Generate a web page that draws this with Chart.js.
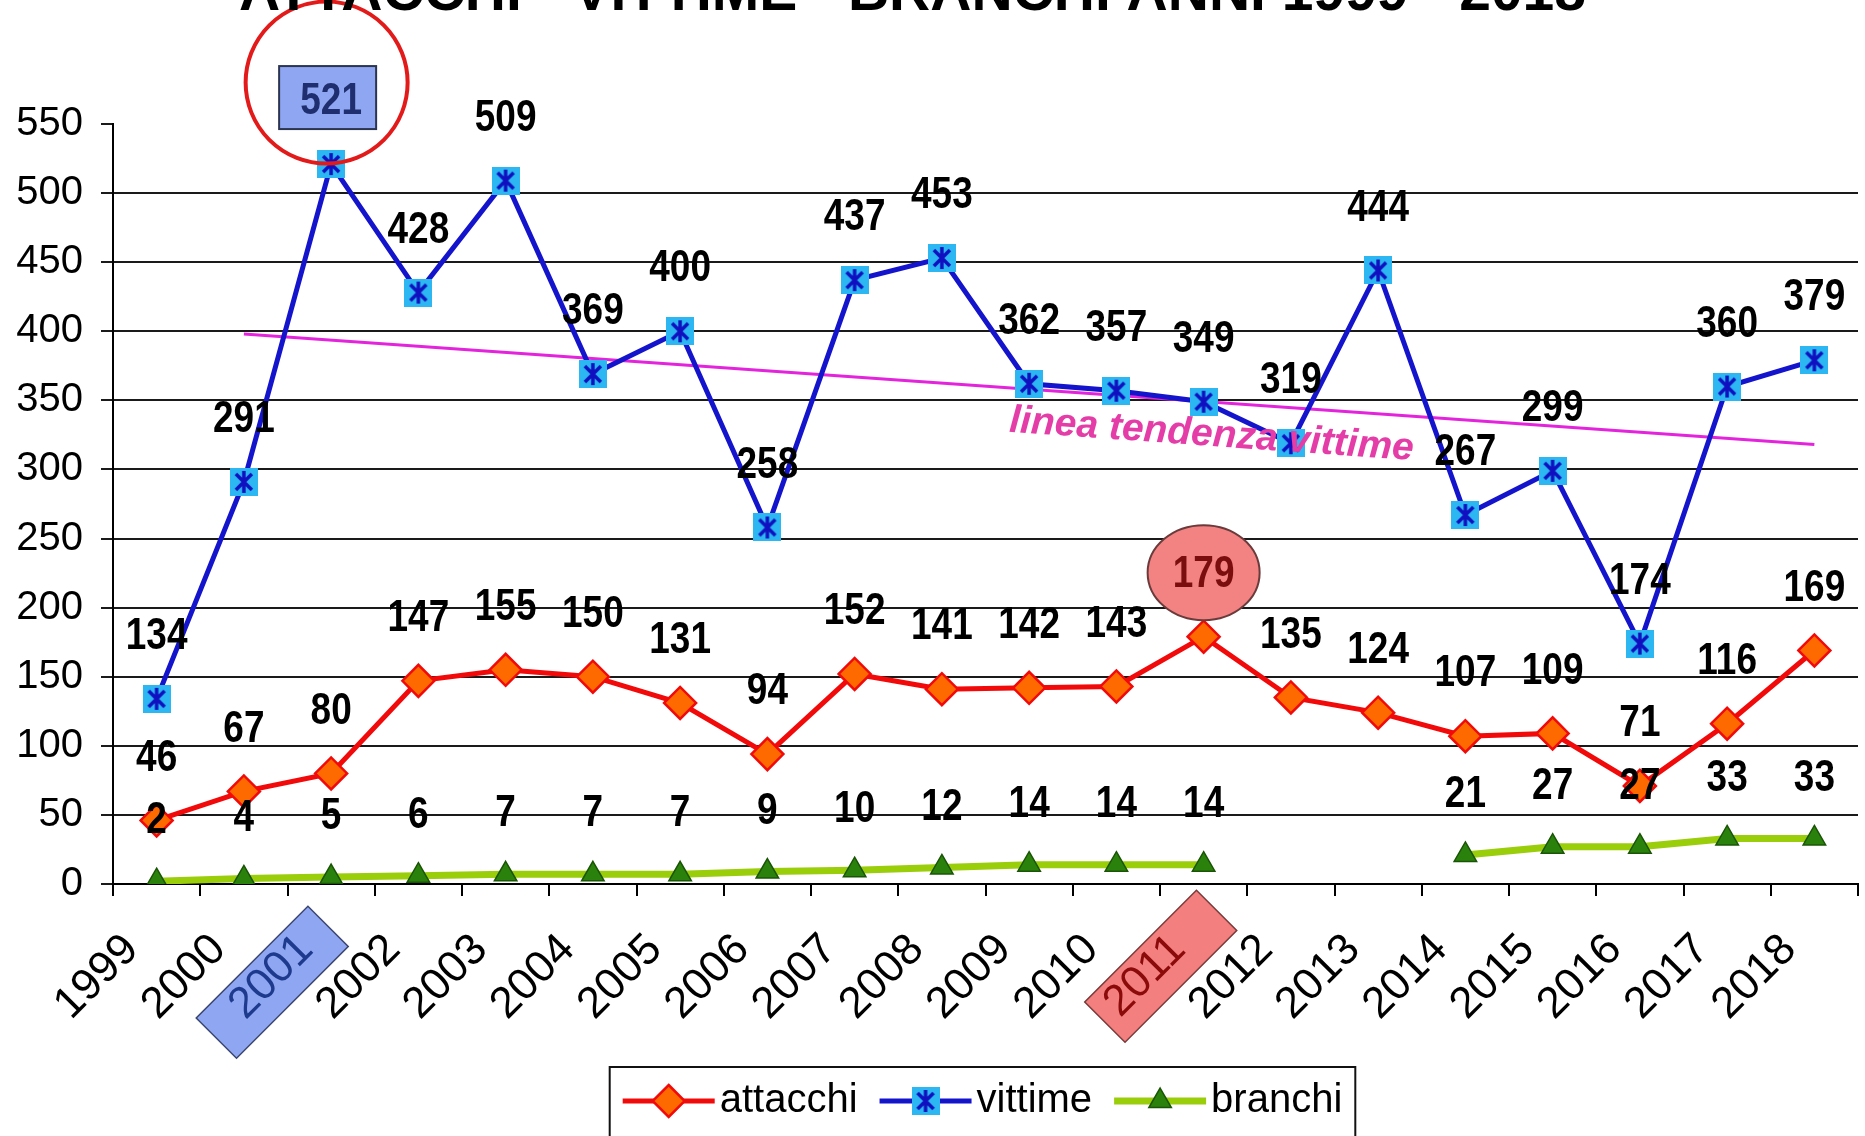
<!DOCTYPE html>
<html>
<head>
<meta charset="utf-8">
<title>Attacchi - vittime - branchi 1999-2018</title>
<script src="https://cdn.jsdelivr.net/npm/chart.js@4.4.1/dist/chart.umd.min.js"></script>
<style>
  html, body { margin: 0; padding: 0; background: #fff; overflow: hidden; }
  canvas { display: block; }
</style>
</head>
<body>
<canvas id="chart" width="1865" height="1136"></canvas>
<script>
const FONT = "'Liberation Sans', Arial, sans-serif";

const years = ['1999', '2000', '2001', '2002', '2003', '2004', '2005', '2006', '2007', '2008',
               '2009', '2010', '2011', '2012', '2013', '2014', '2015', '2016', '2017', '2018'];
const attacchi = [46, 67, 80, 147, 155, 150, 131, 94, 152, 141, 142, 143, 179, 135, 124, 107, 109, 71, 116, 169];
const vittime = [134, 291, 521, 428, 509, 369, 400, 258, 437, 453, 362, 357, 349, 319, 444, 267, 299, 174, 360, 379];
const branchi = [2, 4, 5, 6, 7, 7, 7, 9, 10, 12, 14, 14, 14, null, null, 21, 27, 27, 33, 33];
const trendVittime = [null, 398, null, null, null, null, null, null, null, null,
                      null, null, null, null, null, null, null, null, null, 318];

const yMin = 0;
const yMax = 550;
const yStep = 50;

const titleText = 'ATTACCHI - VITTIME - BRANCHI ANNI 1999 - 2018';
const trendNote = 'linea tendenza vittime';
const trendNoteYear = '2011';
const peakVittimeYear = '2001';
const peakAttacchiYear = '2011';

// highlighted year labels on the x axis (shift = slide along the text)
const yearBoxes = {
    '2001': { fill: '#8FA6F2', stroke: '#3B4670', text: '#1E3A8C', shift: 0 },
    '2011': { fill: '#F47F7F', stroke: '#7A3A3A', text: '#8B0A0A', shift: 21 }
};

// vittime marker: cyan square with a blue asterisk
const starSquare = (() => {
    const size = 28;
    const c = document.createElement('canvas');
    c.width = size;
    c.height = size;
    const g = c.getContext('2d');
    g.fillStyle = '#2DB7F2';
    g.fillRect(0, 0, size, size);
    g.strokeStyle = '#1010C0';
    g.lineWidth = 3.5;
    g.beginPath();
    g.moveTo(6, 6); g.lineTo(size - 6, size - 6);
    g.moveTo(size - 6, 6); g.lineTo(6, size - 6);
    g.moveTo(size / 2, 3); g.lineTo(size / 2, size - 3);
    g.stroke();
    return c;
})();

const drawMarker = (ctx, ds, x, y) => {
    const style = ds.pointStyle;
    if (style instanceof HTMLCanvasElement) {
        ctx.drawImage(style, x - style.width / 2, y - style.height / 2);
        return;
    }
    const r = ds.pointRadius;
    ctx.beginPath();
    if (style === 'rectRot') {
        ctx.moveTo(x, y - r); ctx.lineTo(x + r, y); ctx.lineTo(x, y + r); ctx.lineTo(x - r, y);
    } else if (style === 'triangle') {
        const h = r * 1.5;
        ctx.moveTo(x, y - r);
        ctx.lineTo(x + r * Math.cos(Math.PI / 6), y - r + h);
        ctx.lineTo(x - r * Math.cos(Math.PI / 6), y - r + h);
    }
    ctx.closePath();
    ctx.fillStyle = ds.pointBackgroundColor;
    ctx.fill();
    ctx.lineWidth = ds.pointBorderWidth;
    ctx.strokeStyle = ds.pointBorderColor;
    ctx.stroke();
};

// bold condensed number, like the narrow font of the original
const drawNumber = (ctx, text, x, y, color) => {
    ctx.save();
    ctx.translate(x, y);
    ctx.scale(0.84, 1);
    ctx.font = `bold 44px ${FONT}`;
    ctx.fillStyle = color;
    ctx.textAlign = 'center';
    ctx.textBaseline = 'middle';
    ctx.fillText(text, 0, 0);
    ctx.restore();
};

// boxes behind the highlighted year labels
const yearBoxPlugin = {
    id: 'yearBoxes',
    beforeDraw(chart) {
        const ctx = chart.ctx;
        const items = chart.scales.x.getLabelItems();
        items.forEach(it => {
            const box = yearBoxes[it.label];
            if (!box) return;
            ctx.save();
            ctx.translate(it.options.translation[0], it.options.translation[1]);
            ctx.rotate(it.options.rotation);
            ctx.font = it.font.string;
            const w = ctx.measureText(it.label).width;
            const cx = -w / 2 - 3 + box.shift;
            const cy = it.textOffset + 4;
            ctx.beginPath();
            ctx.rect(cx - 79, cy - 28.5, 158, 57);
            ctx.fillStyle = box.fill;
            ctx.fill();
            ctx.lineWidth = 1.5;
            ctx.strokeStyle = box.stroke;
            ctx.stroke();
            ctx.restore();
        });
    }
};

// value labels above the points
const valueLabels = {
    id: 'valueLabels',
    afterDatasetsDraw(chart) {
        const ctx = chart.ctx;
        chart.data.datasets.forEach((ds, di) => {
            if (!ds.lift) return;
            chart.getDatasetMeta(di).data.forEach((pt, i) => {
                const v = ds.data[i];
                if (v === null || v === undefined) return;
                const x = pt.x;
                const y = pt.y - ds.lift;
                let color = '#000';
                const peakV = ds.label === 'vittime' && years[i] === peakVittimeYear;
                const peakA = ds.label === 'attacchi' && years[i] === peakAttacchiYear;
                if (peakV) {
                    ctx.save();
                    ctx.fillStyle = '#8FA6F2';
                    ctx.strokeStyle = '#2B3550';
                    ctx.lineWidth = 2;
                    ctx.fillRect(x - 52, y - 36, 97, 63);
                    ctx.strokeRect(x - 52, y - 36, 97, 63);
                    ctx.restore();
                    color = '#1F2E6E';
                }
                if (peakA) {
                    ctx.save();
                    ctx.beginPath();
                    ctx.ellipse(x, y - 2, 56, 47.5, 0, 0, Math.PI * 2);
                    ctx.fillStyle = '#F38282';
                    ctx.fill();
                    ctx.lineWidth = 2;
                    ctx.strokeStyle = '#6B3B3B';
                    ctx.stroke();
                    ctx.restore();
                    color = '#7A0D0D';
                }
                drawNumber(ctx, String(v), x, y, color);
                if (peakV) {
                    ctx.save();
                    ctx.beginPath();
                    ctx.arc(x - 4.5, y - 19.5, 81, 0, Math.PI * 2);
                    ctx.lineWidth = 4;
                    ctx.strokeStyle = '#E31A1A';
                    ctx.stroke();
                    ctx.restore();
                }
            });
        });

        // note under the trend line
        const ti = chart.data.datasets.findIndex(d => d.label === 'tendenza');
        const pts = chart.getDatasetMeta(ti).data.filter((p, i) => trendVittime[i] !== null);
        const a = pts[0];
        const b = pts[pts.length - 1];
        const ang = Math.atan2(b.y - a.y, b.x - a.x);
        const nx = chart.scales.x.getPixelForValue(years.indexOf(trendNoteYear)) + 8;
        const ny = a.y + (nx - a.x) * (b.y - a.y) / (b.x - a.x) + 33;
        ctx.save();
        ctx.translate(nx, ny);
        ctx.rotate(ang);
        ctx.font = `italic bold 39px ${FONT}`;
        ctx.fillStyle = '#E43DA8';
        ctx.textAlign = 'center';
        ctx.textBaseline = 'middle';
        ctx.fillText(trendNote, 0, 0);
        ctx.restore();
    }
};

// cut off title and boxed legend at the bottom
const frame = {
    id: 'frame',
    afterDraw(chart) {
        const ctx = chart.ctx;
        const area = chart.chartArea;
        ctx.save();
        ctx.font = `bold 57px ${FONT}`;
        ctx.fillStyle = '#000';
        ctx.textAlign = 'center';
        ctx.textBaseline = 'alphabetic';
        ctx.fillText(titleText, chart.width / 2 - 20, 10);

        const shown = chart.data.datasets.filter(d => d.inLegend);
        ctx.font = `40px ${FONT}`;
        const sample = 92, gapText = 5, gapItem = 22, pad = 13;
        let total = pad * 2;
        shown.forEach((d, k) => {
            total += sample + gapText + ctx.measureText(d.label).width + (k ? gapItem : 0);
        });
        const left = (area.left + area.right) / 2 - 3 - total / 2;
        const top = area.bottom + 183;
        const midY = top + 34;
        ctx.lineWidth = 2;
        ctx.strokeStyle = '#111';
        ctx.strokeRect(left, top, total, 120);
        let x = left + pad;
        shown.forEach(d => {
            ctx.beginPath();
            ctx.moveTo(x, midY);
            ctx.lineTo(x + sample, midY);
            ctx.lineWidth = d.borderWidth;
            ctx.strokeStyle = d.borderColor;
            ctx.stroke();
            drawMarker(ctx, d, x + sample / 2, midY);
            x += sample + gapText;
            ctx.fillStyle = '#000';
            ctx.textAlign = 'left';
            ctx.textBaseline = 'middle';
            ctx.fillText(d.label, x, midY);
            x += ctx.measureText(d.label).width + gapItem;
        });
        ctx.restore();
    }
};

new Chart(document.getElementById('chart'), {
    type: 'line',
    data: {
        labels: years,
        datasets: [
            {
                label: 'attacchi',
                data: attacchi,
                borderColor: '#F20A0A',
                borderWidth: 5,
                pointStyle: 'rectRot',
                pointRadius: 16,
                pointBackgroundColor: '#FF6A00',
                pointBorderColor: '#F20A0A',
                pointBorderWidth: 2.5,
                lift: 62,
                inLegend: true
            },
            {
                label: 'vittime',
                data: vittime,
                borderColor: '#1414CC',
                borderWidth: 5,
                pointStyle: starSquare,
                pointRadius: 14,
                lift: 62,
                inLegend: true
            },
            {
                label: 'branchi',
                data: branchi,
                borderColor: '#9ACD0A',
                borderWidth: 7,
                pointStyle: 'triangle',
                pointRadius: 13,
                pointBackgroundColor: '#2A820C',
                pointBorderColor: '#1A5506',
                pointBorderWidth: 1.5,
                spanGaps: false,
                lift: 60,
                inLegend: true
            },
            {
                label: 'tendenza',
                data: trendVittime,
                borderColor: '#E424DC',
                borderWidth: 3,
                pointRadius: 0,
                spanGaps: true
            }
        ]
    },
    options: {
        responsive: false,
        animation: false,
        events: [],
        layout: { autoPadding: false, padding: { top: 124, right: 7, left: 0, bottom: 0 } },
        plugins: {
            legend: { display: false },
            tooltip: { enabled: false },
            title: { display: false }
        },
        scales: {
            x: {
                offset: true,
                afterFit: (scale) => {
                    scale.height = 252;
                    scale.paddingLeft = 0;
                    scale.paddingRight = 0;
                },
                grid: {
                    offset: true,
                    drawOnChartArea: false,
                    drawTicks: true,
                    tickLength: 12,
                    color: '#000',
                    lineWidth: 2
                },
                border: { color: '#000', width: 2 },
                ticks: {
                    autoSkip: false,
                    minRotation: 45,
                    maxRotation: 45,
                    labelOffset: -25,
                    padding: 28,
                    font: { family: FONT, size: 44 },
                    color: (c) => (yearBoxes[years[c.index]] ? yearBoxes[years[c.index]].text : '#000')
                }
            },
            y: {
                min: yMin,
                max: yMax,
                afterFit: (scale) => {
                    scale.width = 113;
                    scale.paddingTop = 0;
                    scale.paddingBottom = 0;
                },
                grid: {
                    color: (c) => (c.tick.value === yMax ? 'rgba(0,0,0,0)' : '#1A1A1A'),
                    tickColor: '#1A1A1A',
                    lineWidth: 2,
                    tickLength: 12
                },
                border: { color: '#000', width: 2 },
                ticks: {
                    stepSize: yStep,
                    padding: 18,
                    font: { family: FONT, size: 40 },
                    color: '#000'
                }
            }
        }
    },
    plugins: [yearBoxPlugin, valueLabels, frame]
});
</script>
</body>
</html>
